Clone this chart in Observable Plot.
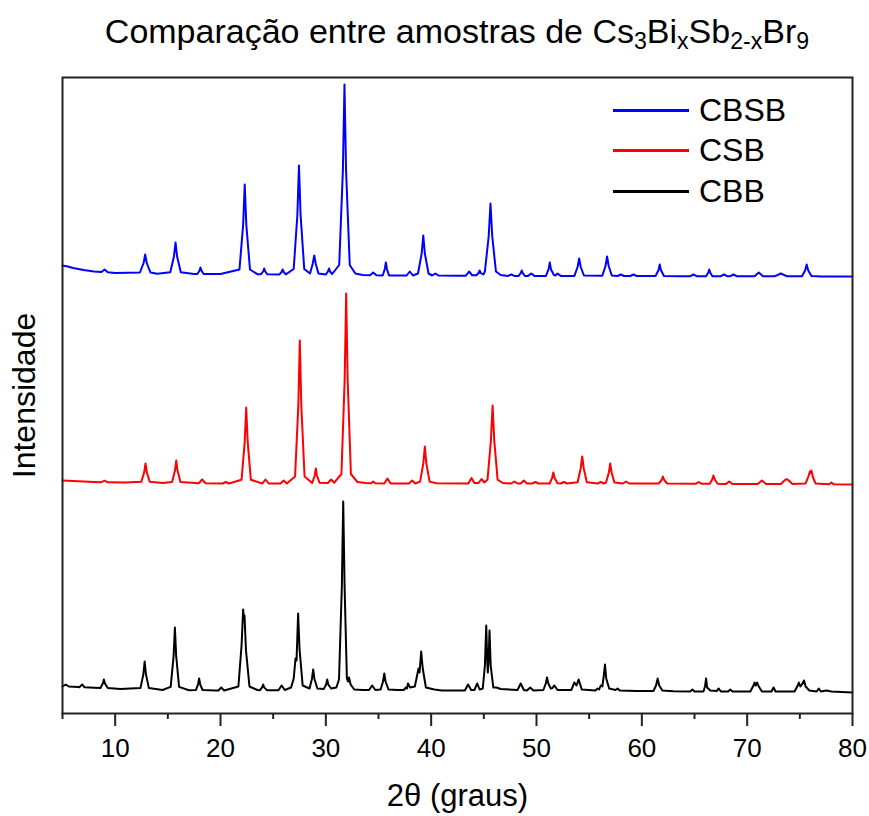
<!DOCTYPE html>
<html>
<head>
<meta charset="utf-8">
<script src="https://cdn.jsdelivr.net/npm/d3@7"></script>
<script src="https://cdn.jsdelivr.net/npm/@observablehq/plot@0.6"></script>
<style>
  body { margin: 0; background: #fff; font-family: "Liberation Sans", Arial, sans-serif; }
  #wrap { position: relative; width: 869px; height: 816px; }
  #title { height: 62px; line-height: 62px; padding-left: 62px; padding-right: 17px; text-align: center; font-size: 34px; color: #000; white-space: nowrap; }
  #title sub { font-size: 0.68em; vertical-align: -0.28em; line-height: 0; }
  #legend { position: absolute; left: 613px; top: 0; }
  .lg { position: absolute; left: 0; width: 300px; height: 40px; }
  .lg .sw { position: absolute; left: 0; width: 76px; height: 3px; top: -1.5px; }
  .lg .tx { position: absolute; left: 86px; top: 0; transform: translateY(-50%); font-size: 32px; line-height: 1; color: #000; }
</style>
</head>
<body>
<div id="wrap">
  <div id="title">Comparação entre amostras de Cs<sub>3</sub>Bi<sub>x</sub>Sb<sub>2-x</sub>Br<sub>9</sub></div>
  <div id="chart"></div>
  <div id="legend"></div>
</div>
<script>
// ---- data (2θ in degrees, intensity in arbitrary units) ----
const samples = ["CBSB", "CSB", "CBB"];
const xMajorTicks = [10, 20, 30, 40, 50, 60, 70, 80];
const xMinorTicks = [5, 15, 25, 35, 45, 55, 65, 75];

const cbsbPoints = [
  [5,11],[5.5,10],[6,8.5],[7,6.5],[8,5],
  [8.7,4.5],[9.0,7],[9.3,4.2],[10,3.5],
  [12.35,4],[12.7,13.5],[12.85,22],[13.0,13.5],[13.35,4],[14,2.8],
  [15.23,4.3],[15.58,20],[15.73,34],[15.88,20],[16.23,4.3],[17.5,2.5],
  [17.8,2.5],[18.0,5.8],[18.1,9],[18.2,5.8],[18.4,2.5],[20,2.5],
  [21.8,7],[22.15,51.7],[22.3,92],[22.45,51.7],[22.8,7],[23.5,2.3],
  [23.85,2.3],[24.05,5],[24.15,8],[24.25,5],[24.45,2.2],
  [25.6,2.1],[25.8,4.5],[25.9,7],[26.0,4.5],[26.2,2.1],
  [26.95,7.5],[27.3,62],[27.45,111],[27.6,62],[27.95,7.5],
  [28.5,3],[28.75,12.5],[28.9,21],[29.05,12.5],[29.3,3],
  [30.0,2],[30.2,5],[30.3,8],[30.4,5],[30.6,2.5],
  [31.27,11.5],[31.62,106.5],[31.77,192],[31.92,106.5],[32.27,11.5],[32.8,3],[33.5,1.5],
  [34.2,1.2],[34.5,4],[34.8,1.2],
  [35.4,1],[35.6,7.5],[35.7,14],[35.8,7.5],[36.0,1],
  [37.67,1],[37.97,5],[38.27,1],
  [38.75,3],[39.1,23],[39.25,41],[39.4,23],[39.75,3],
  [40.1,1],[40.4,3],[40.7,1],[42.5,0.8],
  [43.3,0.8],[43.6,5],[43.9,1.2],
  [44.3,1.2],[44.5,3.5],[44.6,6],[44.7,3.5],[44.95,2],
  [45.1,5],[45.46,40],[45.63,73],[45.8,40],[46.15,5],[46.6,1.5],
  [47.3,0.6],[47.6,2],[47.9,0.6],
  [48.3,0.6],[48.5,3.3],[48.6,6],[48.7,3.3],[48.9,0.6],
  [49.2,0.6],[49.5,3],[49.8,0.6],
  [50.9,0.6],[51.15,7.3],[51.26,14],[51.37,7.3],[51.65,1.5],
  [51.8,1],[52.0,3],[52.3,0.6],
  [53.6,0.6],[53.9,9.5],[54.05,18],[54.2,9.5],[54.5,1],
  [56.25,0.8],[56.55,10.5],[56.7,20],[56.85,10.5],[57.15,1],
  [57.7,0.5],[58.0,2],[58.3,0.5],
  [58.9,0.5],[59.2,2],[59.5,0.5],
  [61.3,0.5],[61.58,6.3],[61.7,12],[61.82,6.3],[62.1,0.5],[63.5,0.3],
  [64.6,0.3],[64.9,2],[65.2,0.3],
  [66.1,0.3],[66.3,3.7],[66.4,7],[66.5,3.7],[66.7,0.3],
  [67.5,0.3],[67.8,2],[68.1,0.3],
  [68.4,0.3],[68.7,2],[69.0,0.3],
  [70.7,0.2],[71.1,4],[71.5,0.2],
  [72.6,0.2],[73.2,3],[73.8,0.2],
  [75.2,0.2],[75.5,6],[75.65,12],[75.8,6],[76.1,0.5],[77,0],[80,0]
];

const csbPoints = [
  [5,3],[6,2.5],[8,1.5],
  [8.7,1.3],[9.0,2.8],[9.3,1.2],[11,1],
  [12.48,1.8],[12.76,11.4],[12.88,20],[13.0,11.4],[13.28,1.8],[14.5,0.5],
  [15.4,1.6],[15.68,12.9],[15.8,23],[15.92,12.9],[16.2,1.6],
  [17.96,0.3],[18.26,4],[18.56,0.3],
  [20.2,0],[20.5,1.5],[20.8,0],
  [22.0,3.8],[22.3,41.8],[22.44,76],[22.58,41.8],[22.88,3.8],
  [23.97,0],[24.27,4],[24.57,0],
  [25.7,0],[26.0,3],[26.3,0],
  [27.08,7],[27.39,78.6],[27.53,143],[27.67,78.6],[27.98,7],
  [28.7,0.5],[28.95,8],[29.05,15],[29.15,8],[29.4,0.8],
  [30.2,0.5],[30.5,4],[30.8,0.8],
  [31.48,9.5],[31.79,104.5],[31.93,190],[32.07,104.5],[32.38,9.5],[33,1.5],[33.8,0.5],
  [34.3,0.3],[34.5,2],[34.7,0.3],
  [35.55,0],[35.85,5],[36.15,0],
  [37.9,0],[38.2,3],[38.5,0],
  [38.95,1.9],[39.26,20.4],[39.4,37],[39.54,20.4],[39.85,1.9],[40.5,0.3],
  [43.53,0],[43.83,5.5],[44.1,0.5],
  [44.5,0.5],[44.78,4.5],[45.05,1],
  [45.35,3.9],[45.67,42.9],[45.83,78],[45.99,42.9],[46.31,3.9],[46.8,0.5],
  [47.6,0],[47.9,2],[48.2,0],
  [48.5,0],[48.8,3],[49.1,0],
  [49.6,0],[49.9,1.5],[50.2,0],
  [51.25,0],[51.48,5.5],[51.6,11],[51.72,5.5],[52.0,0.3],
  [52.3,0],[52.6,1.5],[52.9,0],
  [53.9,1.3],[54.19,14.8],[54.34,27],[54.49,14.8],[54.78,1.3],
  [55.8,0],[56.1,1.5],[56.4,0],
  [56.6,1],[56.87,11],[57.0,20],[57.13,11],[57.4,1],
  [58.2,0],[58.5,2],[58.8,0],[60,0],
  [61.6,0],[61.88,3.5],[62.0,7],[62.12,3.5],[62.4,0],
  [65.1,-0.3],[65.4,1.5],[65.7,-0.3],
  [66.45,-0.3],[66.68,4],[66.8,8],[66.92,4],[67.2,-0.3],
  [68.0,-0.4],[68.3,2],[68.6,-0.4],
  [71.0,-0.5],[71.4,3],[71.8,-0.5],
  [73.2,-0.5],[73.6,3.5],[73.74,4.5],[73.9,3.5],[74.3,-0.5],
  [75.55,0],[75.85,8],[75.95,12],[76.02,10.5],[76.1,13],[76.25,6],[76.5,0],
  [77.8,-0.8],[78.0,1],[78.2,-0.8],[80,-1]
];

const cbbPoints = [
  [5,4],[5.3,6],[5.6,4],[6.5,3.5],
  [6.6,3.3],[6.87,6],[7.1,3.2],[8,2.8],
  [8.6,2.6],[8.83,7],[8.93,11],[9.03,7],[9.3,2.5],[10.5,1.5],
  [12.4,2.4],[12.68,16.4],[12.8,29],[12.92,16.4],[13.2,2.4],[14.5,0.5],
  [15.27,3.6],[15.55,34.9],[15.67,63],[15.79,34.9],[16.07,3.6],[17,0.3],
  [17.67,0.5],[17.87,6.2],[17.97,12],[18.07,6.2],[18.3,0.5],[19.5,0],
  [19.8,0],[20.07,3],[20.35,0],
  [21.7,4],[22.0,45],[22.15,81],[22.22,72],[22.28,75],[22.42,40],[22.75,4],[23.5,0.5],
  [23.75,0.3],[23.95,3.2],[24.05,6],[24.15,3.2],[24.4,0.3],
  [25.5,0.3],[25.8,5],[26.1,0.5],
  [26.7,3],[26.95,12],[27.12,32],[27.22,30],[27.37,77],[27.5,42],[27.8,5],
  [28.45,2],[28.68,11.5],[28.8,21],[28.92,11.5],[29.2,2],
  [29.8,1.5],[30.03,6],[30.13,11],[30.23,6],[30.5,2],[31.0,3],
  [31.25,11],[31.52,104],[31.65,189],[31.78,104],[32.0,12],
  [32.1,9],[32.2,13],[32.35,6],[32.7,1],[33.5,0.5],
  [34.1,0.5],[34.4,5],[34.7,0.5],
  [35.2,1],[35.43,9],[35.55,17],[35.67,9],[35.95,1],[36.8,0.5],
  [37.4,0.5],[37.6,3],[37.7,2],[37.8,7],[38.0,3],
  [38.45,4],[38.8,22],[38.9,18],[39.05,39],[39.2,22],[39.5,3],[40.3,1],[41,0],
  [43.2,0],[43.5,6],[43.8,0.5],
  [44.1,0.5],[44.37,7],[44.6,1],
  [44.9,2],[45.1,25],[45.23,65],[45.32,30],[45.38,18],[45.45,30],[45.54,60],[45.65,25],[45.9,3],
  [46.2,3],[46.6,1.5],
  [48.2,0.5],[48.5,7],[48.8,0.5],
  [49.1,0],[49.4,3],[49.7,0],
  [50.65,0.5],[50.88,7],[51.0,13],[51.12,7],[51.35,2],
  [51.5,2.5],[51.7,5],[52.0,0.5],
  [53.3,0.5],[53.6,8],[53.8,5],[54.0,11],[54.3,1],
  [55.6,0],[55.8,2],[55.95,1],[56.1,5],[56.25,4],[56.38,14],[56.5,26],[56.62,12],[56.9,2],
  [57.5,0.5],[57.7,2],[57.9,0],[59.5,-0.5],
  [61.1,-0.5],[61.35,5],[61.5,12],[61.65,5],[61.95,0],[63,-0.8],
  [64.6,-1],[64.8,1],[65.0,-1],
  [65.85,-1],[66.0,4],[66.1,12],[66.2,3],[66.5,0],
  [67.1,-0.5],[67.3,2],[67.5,-1],
  [68.2,-1],[68.4,1],[68.6,-1],
  [70.3,-1],[70.6,5],[70.7,8],[70.82,5],[70.95,8],[71.1,4],[71.4,-1],
  [72.3,-1],[72.5,3],[72.7,-1],
  [74.5,-1],[74.8,5],[74.9,8],[75.05,4],[75.2,6],[75.4,10],[75.55,4],[75.9,0],
  [76.6,-1],[76.8,2],[77.0,-1],[77.5,0],[78,-1],[80,-2]
];

// ---- presentation ----
const colors = {CBSB: "#0000ff", CSB: "#ff0000", CBB: "#000000"};
const offsets = {CBSB: 437, CSB: 230, CBB: 23}; // vertical stacking of the patterns
const pointsBySample = {CBSB: cbsbPoints, CSB: csbPoints, CBB: cbbPoints};

const rows = samples.flatMap(s => pointsBySample[s].map(([t, i]) => ({sample: s, theta: t, intensity: i})));

const chart = Plot.plot({
  width: 869,
  height: 754,
  marginTop: 15,
  marginLeft: 62,
  marginRight: 17,
  marginBottom: 103,
  style: {fontFamily: "'Liberation Sans', Arial, sans-serif", color: "#000", background: "#fff"},
  x: {domain: [5, 80]},
  y: {domain: [0, 636], axis: null},
  color: {domain: samples, range: samples.map(s => colors[s])},
  marks: [
    Plot.line(rows, {x: "theta", y: d => d.intensity + offsets[d.sample], z: "sample", stroke: "sample", strokeWidth: 2, strokeLinejoin: "round"}),
    Plot.frame({stroke: "#222", strokeWidth: 2}),
    Plot.axisX({ticks: xMajorTicks, tickSize: 13, strokeWidth: 2, stroke: "#222", tickFormat: () => "", label: null}),
    Plot.axisX({ticks: xMinorTicks, tickSize: 6, strokeWidth: 2, stroke: "#222", tickFormat: () => "", label: null}),
    Plot.text(xMajorTicks, {x: d => d, text: d => String(d), frameAnchor: "bottom", lineAnchor: "top", dy: 25, fontSize: 26, fill: "#000"}),
    Plot.text(["Intensidade"], {frameAnchor: "left", text: d => d, rotate: -90, dx: -38, textAnchor: "middle", lineAnchor: "middle", fontSize: 32, fill: "#000"}),
    Plot.text(["2θ (graus)"], {frameAnchor: "bottom", text: d => d, dy: 83, textAnchor: "middle", lineAnchor: "middle", fontSize: 31, fill: "#000"})
  ]
});
document.getElementById("chart").appendChild(chart);

// legend
const legendY = {CBSB: 110, CSB: 150, CBB: 191};
const lg = document.getElementById("legend");
samples.forEach(s => {
  const row = document.createElement("div");
  row.className = "lg";
  row.style.top = legendY[s] + "px";
  row.innerHTML = `<div class="sw" style="background:${colors[s]}"></div><div class="tx">${s}</div>`;
  lg.appendChild(row);
});
</script>
</body>
</html>
